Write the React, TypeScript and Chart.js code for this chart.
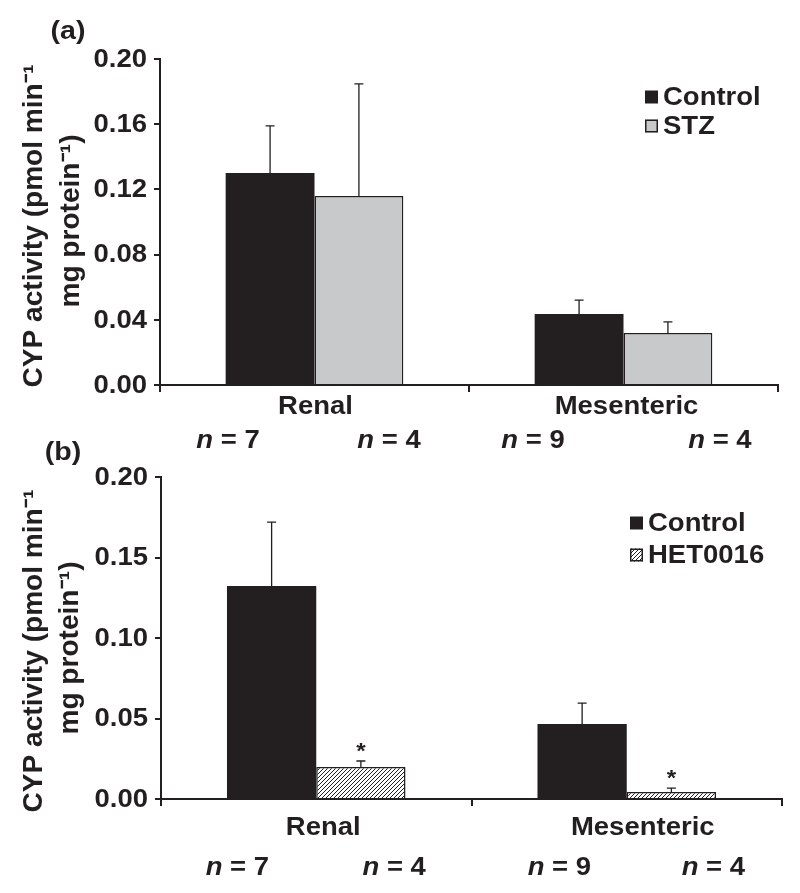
import React, { useEffect, useRef } from "react";
import { Chart, registerables } from "chart.js";

Chart.register(...registerables);

// ---------- data ----------
const categories = ["Renal", "Mesenteric"];

const seriesNamesA = ["Control", "STZ"];
const controlA = [0.13, 0.0436];
const controlAErr = [0.029, 0.0085];
const stzA = [0.116, 0.0319];
const stzAErr = [0.0687, 0.0068];
const sigA = [
  [false, false],
  [false, false],
];
const nLabelsA = ["7", "4", "9", "4"];
const yStepA = 0.04;

const seriesNamesB = ["Control", "HET0016"];
const controlB = [0.1323, 0.0466];
const controlBErr = [0.0397, 0.013];
const hetB = [0.0199, 0.0043];
const hetBErr = [0.0037, 0.0025];
const sigB = [
  [false, false],
  [true, true],
];
const nLabelsB = ["7", "4", "9", "4"];
const yStepB = 0.05;

const yTitle = ["CYP activity (pmol min\u207B\u00B9", "mg protein\u207B\u00B9)"];

// ---------- style ----------
const DARK = "#231f20";
const GRAY = "#c8c9ca";
const FONT = "'Liberation Sans', Arial, Helvetica, sans-serif";
const SX = 1.1;

function makeHatch(ctx: CanvasRenderingContext2D) {
  const c = document.createElement("canvas");
  c.width = 4;
  c.height = 4;
  const g = c.getContext("2d")!;
  g.fillStyle = "#ffffff";
  g.fillRect(0, 0, 4, 4);
  g.strokeStyle = DARK;
  g.lineWidth = 1;
  g.beginPath();
  g.moveTo(-1, 5);
  g.lineTo(5, -1);
  g.moveTo(-1, 1);
  g.lineTo(1, -1);
  g.moveTo(3, 5);
  g.lineTo(5, 3);
  g.stroke();
  return ctx.createPattern(c, "repeat")!;
}

function textWidth(ctx: CanvasRenderingContext2D, text: string, font: string, sx: number) {
  ctx.save();
  ctx.font = font;
  const w = ctx.measureText(text).width * sx;
  ctx.restore();
  return w;
}

function drawText(
  ctx: CanvasRenderingContext2D,
  text: string,
  x: number,
  y: number,
  font: string,
  align: "left" | "center" | "right",
  baseline: CanvasTextBaseline,
  sx = SX,
  rot = 0
) {
  ctx.save();
  ctx.font = font;
  ctx.fillStyle = DARK;
  ctx.textBaseline = baseline;
  ctx.textAlign = "left";
  const w = ctx.measureText(text).width * sx;
  ctx.translate(x, y);
  if (rot) ctx.rotate(rot);
  const dx = align === "center" ? -w / 2 : align === "right" ? -w : 0;
  ctx.translate(dx, 0);
  ctx.scale(sx, 1);
  ctx.fillText(text, 0, 0);
  ctx.restore();
}

type PanelCfg = {
  top: number;
  height: number;
  padTop: number;
  padRight: number;
  yWidth: number;
  xHeight: number;
  yStep: number;
  series: number[][];
  errors: number[][];
  sig: boolean[][];
  names: string[];
  fills: string[];
  borders: number[];
  nLabels: string[];
  nOffsets: number[];
  nY: number;
  catY: number;
  catDx: number[];
  titleX: number[];
  titleDy: number[];
  legendX: number;
  legendY: number;
  legendRow: number;
  panelLabel: string;
  panelX: number;
  panelY: number;
};

const panelA: PanelCfg = {
  top: 0,
  height: 460,
  padTop: 59,
  padRight: 22,
  yWidth: 160,
  xHeight: 75,
  yStep: yStepA,
  series: [controlA, stzA],
  errors: [controlAErr, stzAErr],
  sig: sigA,
  names: seriesNamesA,
  fills: [DARK, GRAY],
  borders: [0, 1.5],
  nLabels: nLabelsA,
  nOffsets: [-0.28, 0.241, -0.293, 0.312],
  nY: 441,
  catY: 407,
  catDx: [1, 3],
  titleX: [42, 79],
  titleDy: [4, -1],
  legendX: 645,
  legendY: 97,
  legendRow: 29,
  panelLabel: "(a)",
  panelX: 68,
  panelY: 32,
};

const panelB: PanelCfg = {
  top: 420,
  height: 473,
  padTop: 57,
  padRight: 18,
  yWidth: 161,
  xHeight: 94,
  yStep: yStepB,
  series: [controlB, hetB],
  errors: [controlBErr, hetBErr],
  sig: sigB,
  names: seriesNamesB,
  fills: [DARK, "hatch"],
  borders: [0, 1.5],
  nLabels: nLabelsB,
  nOffsets: [-0.254, 0.251, -0.217, 0.279],
  nY: 448,
  catY: 408,
  catDx: [7, 16],
  titleX: [42, 78],
  titleDy: [13, 10],
  legendX: 630,
  legendY: 103,
  legendRow: 32,
  panelLabel: "(b)",
  panelX: 63,
  panelY: 33,
};

function Panel({ cfg }: { cfg: PanelCfg }) {
  const ref = useRef<HTMLCanvasElement>(null);
  useEffect(() => {
    const canvas = ref.current!;
    const ctx0 = canvas.getContext("2d")!;
    const hatch = makeHatch(ctx0);
    const fills: any[] = cfg.fills.map((f) => (f === "hatch" ? hatch : f));
    const F25 = `bold 25px ${FONT}`;

    const overlay = {
      id: "overlay",
      afterDatasetsDraw(chart: any) {
        const ctx = chart.ctx;
        const y = chart.scales.y;
        chart.data.datasets.forEach((ds: any, di: number) => {
          const meta = chart.getDatasetMeta(di);
          meta.data.forEach((bar: any, i: number) => {
            const v = ds.data[i];
            const e = cfg.errors[di][i];
            const yt = y.getPixelForValue(v);
            const ye = y.getPixelForValue(v + e);
            ctx.save();
            ctx.strokeStyle = DARK;
            ctx.lineWidth = 1.3;
            ctx.beginPath();
            ctx.moveTo(bar.x, yt);
            ctx.lineTo(bar.x, ye);
            ctx.moveTo(bar.x - 4.5, ye);
            ctx.lineTo(bar.x + 4.5, ye);
            ctx.stroke();
            ctx.restore();
            if (cfg.sig[di][i]) {
              drawText(ctx, "*", bar.x, ye - 3, `bold 22px ${FONT}`, "center", "alphabetic", 1.1);
            }
          });
        });
      },
      afterDraw(chart: any) {
        const ctx = chart.ctx as CanvasRenderingContext2D;
        const x = chart.scales.x;
        const y = chart.scales.y;
        const area = chart.chartArea;
        // y tick labels
        y.ticks.forEach((t: any) => {
          drawText(
            ctx,
            Number(t.value).toFixed(2),
            area.left - 13,
            y.getPixelForValue(t.value) + 1,
            F25,
            "right",
            "middle"
          );
        });
        // category labels
        categories.forEach((c, i) => {
          drawText(ctx, c, x.getPixelForValue(i) + cfg.catDx[i], cfg.catY, F25, "center", "middle");
        });
        // y title (rotated, two lines)
        const cy = (area.top + area.bottom) / 2;
        yTitle.forEach((line, k) => {
          drawText(
            ctx,
            line,
            cfg.titleX[k],
            cy + cfg.titleDy[k],
            `bold 27px ${FONT}`,
            "center",
            "alphabetic",
            1.04,
            -Math.PI / 2
          );
        });
        // legend
        chart.data.datasets.forEach((ds: any, di: number) => {
          const ly = cfg.legendY + di * cfg.legendRow;
          ctx.save();
          ctx.fillStyle = ds.backgroundColor;
          ctx.fillRect(cfg.legendX, ly - 6.5, 13, 13);
          if (cfg.borders[di] > 0) {
            ctx.strokeStyle = DARK;
            ctx.lineWidth = 1.5;
            ctx.strokeRect(cfg.legendX + 0.75, ly - 5.75, 11.5, 11.5);
          }
          ctx.restore();
          drawText(ctx, ds.label, cfg.legendX + 18, ly + 1, F25, "left", "middle");
        });
        // n labels
        const w = x.getPixelForValue(1) - x.getPixelForValue(0);
        cfg.nLabels.forEach((lab, k) => {
          const cat = Math.floor(k / 2);
          const cx = x.getPixelForValue(cat) + cfg.nOffsets[k] * w;
          const fN = `italic bold 25px ${FONT}`;
          const rest = " = " + lab;
          const wN = textWidth(ctx, "n", fN, SX);
          const wR = textWidth(ctx, rest, F25, SX);
          const start = cx - (wN + wR) / 2;
          drawText(ctx, "n", start, cfg.nY, fN, "left", "middle");
          drawText(ctx, rest, start + wN, cfg.nY, F25, "left", "middle");
        });
        // panel label
        drawText(ctx, cfg.panelLabel, cfg.panelX, cfg.panelY, `bold 26px ${FONT}`, "center", "middle");
      },
    };

    const chart = new Chart(canvas, {
      type: "bar",
      data: {
        labels: categories,
        datasets: cfg.series.map((s, i) => ({
          label: cfg.names[i],
          data: s,
          backgroundColor: fills[i],
          borderColor: DARK,
          borderWidth: cfg.borders[i],
          categoryPercentage: 0.575,
          barPercentage: 1,
        })),
      },
      options: {
        responsive: false,
        animation: false,
        devicePixelRatio: 1,
        layout: {
          padding: { top: cfg.padTop, right: cfg.padRight, left: 0, bottom: 0 },
        },
        plugins: {
          legend: { display: false },
          tooltip: { enabled: false },
        },
        scales: {
          x: {
            grid: {
              display: true,
              drawOnChartArea: false,
              drawTicks: true,
              tickLength: 7,
              color: DARK,
              lineWidth: 2,
            },
            border: { color: DARK, width: 2 },
            ticks: { display: false },
            afterFit: (s: any) => {
              s.height = cfg.xHeight;
            },
          },
          y: {
            min: 0,
            max: 0.2,
            ticks: { display: false, stepSize: cfg.yStep },
            grid: {
              drawOnChartArea: false,
              drawTicks: true,
              tickLength: 6,
              color: DARK,
              lineWidth: 2,
            },
            border: { color: DARK, width: 2 },
            afterFit: (s: any) => {
              s.width = cfg.yWidth;
            },
          },
        },
      } as any,
      plugins: [overlay as any],
    });
    return () => chart.destroy();
  }, []);
  return (
    <canvas
      ref={ref}
      width={800}
      height={cfg.height}
      style={{
        position: "absolute",
        left: 0,
        top: cfg.top,
        width: 800,
        height: cfg.height,
      }}
    />
  );
}

export default function App() {
  return (
    <div
      style={{
        position: "absolute",
        left: 0,
        top: 0,
        width: 800,
        height: 893,
        background: "#ffffff",
      }}
    >
      <Panel cfg={panelA} />
      <Panel cfg={panelB} />
    </div>
  );
}
